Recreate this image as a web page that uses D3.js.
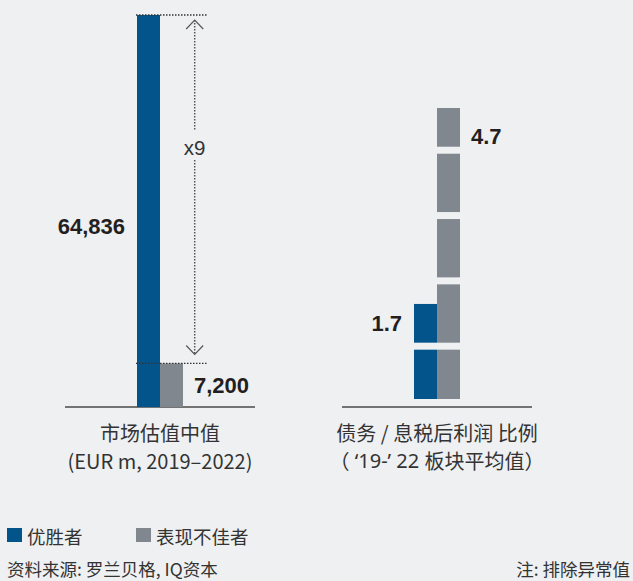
<!DOCTYPE html>
<html>
<head>
<meta charset="utf-8">
<script src="https://cdn.jsdelivr.net/npm/d3@7"></script>
<style>
  html, body { margin: 0; padding: 0; background: #eef0f2; }
  svg { display: block; }
  .cjk { font-family: "Noto Sans CJK SC", "Noto Sans", sans-serif; fill: #333; }
  .lat { font-family: "Noto Sans", sans-serif; }
  .num { font-family: "Liberation Sans", Arial, sans-serif; fill: #231f20; }
</style>
</head>
<body>
<svg id="chart" width="633" height="581"></svg>
<script>
// Series and categories
const series = ["优胜者", "表现不佳者"];
const seriesColors = ["#02548a", "#80878e"];
const valuationValues = [64836, 7200];          // 市场估值中值 (EUR m)
const debtRatioValues = [1.7, 4.7];              // 债务 / 息税后利润 比例
const valuationLabels = ["64,836", "7,200"];
const debtRatioLabels = ["1.7", "4.7"];
// Each title line is a list of [text, useLatinFont] runs
const categoryTitles = [
  [[["市场估值中值", false]], [["(EUR m, 2019–2022)", false]]],
  [[["债务 / 息税后利润 比例", false]],
   [["（", false], [" ‘19-’ 22 ", true], ["板块平均值）", false]]]
];
const multipleLabel = "x9";
const sourceText = "资料来源: 罗兰贝格, IQ资本";
const noteText = "注: 排除异常值";

const svg = d3.select("#chart");
const axisY = 407;

// Group centres and bar offsets
const xGroup = d3.scalePoint().domain([0, 1]).range([160, 437]);
const xSeries = d3.scaleBand().domain(series).range([-23, 23]).padding(0);
const axisHalf = 95;

// Left panel: continuous bars
const yL = d3.scaleLinear().domain([0, d3.max(valuationValues)]).range([axisY, 15]);
// Right panel: bars split into one segment per unit
const yR = d3.scaleLinear().domain([0, d3.max(debtRatioValues)]).range([415, 108]);
const segGap = 7;
const barFloor = axisY - 8;

// Baselines
[0, 1].forEach(g => {
  svg.append("line")
    .attr("x1", xGroup(g) - axisHalf).attr("x2", xGroup(g) + axisHalf)
    .attr("y1", axisY).attr("y2", axisY)
    .attr("stroke", "#4a4a4a").attr("stroke-width", 1.5);
});

// Valuation bars
svg.selectAll("rect.val").data(valuationValues).join("rect")
  .attr("class", "val")
  .attr("x", (d, i) => xGroup(0) + xSeries(series[i]))
  .attr("width", xSeries.bandwidth())
  .attr("y", d => yL(d))
  .attr("height", d => axisY - yL(d))
  .attr("fill", (d, i) => seriesColors[i]);

// Debt ratio bars, segmented by whole units
const segments = [];
debtRatioValues.forEach((v, i) => {
  for (let u = 0; u < v; u++) {
    const top = yR(Math.min(u + 1, v));
    const bottom = Math.min(yR(u) - segGap, barFloor);
    segments.push({ i, top, bottom });
  }
});
svg.selectAll("rect.seg").data(segments).join("rect")
  .attr("class", "seg")
  .attr("x", d => xGroup(1) + xSeries(series[d.i]))
  .attr("width", xSeries.bandwidth())
  .attr("y", d => d.top)
  .attr("height", d => d.bottom - d.top)
  .attr("fill", d => seriesColors[d.i]);

// Dotted reference lines at the two valuation levels
const refX1 = xGroup(0) + xSeries(series[0]) - 1;
const refX2 = refX1 + 72;
valuationValues.forEach(v => {
  svg.append("line")
    .attr("x1", refX1).attr("x2", refX2)
    .attr("y1", yL(v)).attr("y2", yL(v))
    .attr("stroke", "#333").attr("stroke-width", 1.3)
    .attr("stroke-dasharray", "1.5,1.5");
});

// Double-headed dotted arrow with the multiple
const ax = 194.7;
const aTop = yL(valuationValues[0]) + 5;
const aBot = yL(valuationValues[1]) - 9;
const textY = 147;
svg.append("line").attr("x1", ax).attr("x2", ax).attr("y1", aTop).attr("y2", textY - 17)
  .attr("stroke", "#555").attr("stroke-width", 1.5).attr("stroke-dasharray", "1.5,1.5");
svg.append("line").attr("x1", ax).attr("x2", ax).attr("y1", textY + 13).attr("y2", aBot)
  .attr("stroke", "#555").attr("stroke-width", 1.5).attr("stroke-dasharray", "1.5,1.5");
svg.append("path")
  .attr("d", `M${ax - 8.5},${aTop + 9}L${ax},${aTop}L${ax + 8.5},${aTop + 9}`)
  .attr("fill", "none").attr("stroke", "#555").attr("stroke-width", 1.2);
svg.append("path")
  .attr("d", `M${ax - 8.5},${aBot - 9}L${ax},${aBot}L${ax + 8.5},${aBot - 9}`)
  .attr("fill", "none").attr("stroke", "#555").attr("stroke-width", 1.2);
svg.append("text").attr("class", "num")
  .attr("x", ax).attr("y", textY).attr("text-anchor", "middle")
  .attr("dominant-baseline", "central")
  .style("font-size", "20.5px").style("fill", "#333")
  .text(multipleLabel);

// Value labels
const labelStyle = sel => sel.attr("class", "num").style("font-size", "22px")
  .style("font-weight", "bold").attr("dominant-baseline", "central");
svg.append("text").call(labelStyle)
  .attr("x", xGroup(0) + xSeries(series[0]) - 12)
  .attr("y", yL(valuationValues[0] / 2) + 15)
  .attr("text-anchor", "end").text(valuationLabels[0]);
svg.append("text").call(labelStyle)
  .attr("x", xGroup(0) + xSeries(series[1]) + xSeries.bandwidth() + 11)
  .attr("y", (yL(valuationValues[1]) + axisY) / 2)
  .attr("text-anchor", "start").text(valuationLabels[1]);
svg.append("text").call(labelStyle)
  .attr("x", xGroup(1) + xSeries(series[0]) - 12)
  .attr("y", (yR(debtRatioValues[0]) + yR(1) - segGap) / 2)
  .attr("text-anchor", "end").text(debtRatioLabels[0]);
svg.append("text").call(labelStyle)
  .attr("x", xGroup(1) + xSeries(series[1]) + xSeries.bandwidth() + 11)
  .attr("y", yR(debtRatioValues[1]) + 28)
  .attr("text-anchor", "start").text(debtRatioLabels[1]);

// Category titles
categoryTitles.forEach((lines, g) => {
  lines.forEach((runs, k) => {
    const t = svg.append("text").attr("class", "cjk")
      .attr("x", xGroup(g)).attr("y", 432 + k * 28)
      .attr("text-anchor", "middle").attr("dominant-baseline", "central")
      .style("font-size", "20px");
    runs.forEach(([s, lat]) => {
      t.append("tspan").attr("class", lat ? "lat" : null).text(s);
    });
  });
});

// Legend
const legendX = [7, 136];
series.forEach((s, i) => {
  svg.append("rect").attr("x", legendX[i]).attr("y", 528)
    .attr("width", 15).attr("height", 14).attr("fill", seriesColors[i]);
  svg.append("text").attr("class", "cjk")
    .attr("x", legendX[i] + 20).attr("y", 535.5)
    .attr("dominant-baseline", "central")
    .style("font-size", "18.5px").text(s);
});

// Source and note
svg.append("text").attr("class", "cjk")
  .attr("x", 7).attr("y", 568).attr("dominant-baseline", "central")
  .style("font-size", "17.5px").text(sourceText);
svg.append("text").attr("class", "cjk")
  .attr("x", 630).attr("y", 568).attr("dominant-baseline", "central")
  .attr("text-anchor", "end")
  .style("font-size", "17.5px").text(noteText);
</script>
</body>
</html>
